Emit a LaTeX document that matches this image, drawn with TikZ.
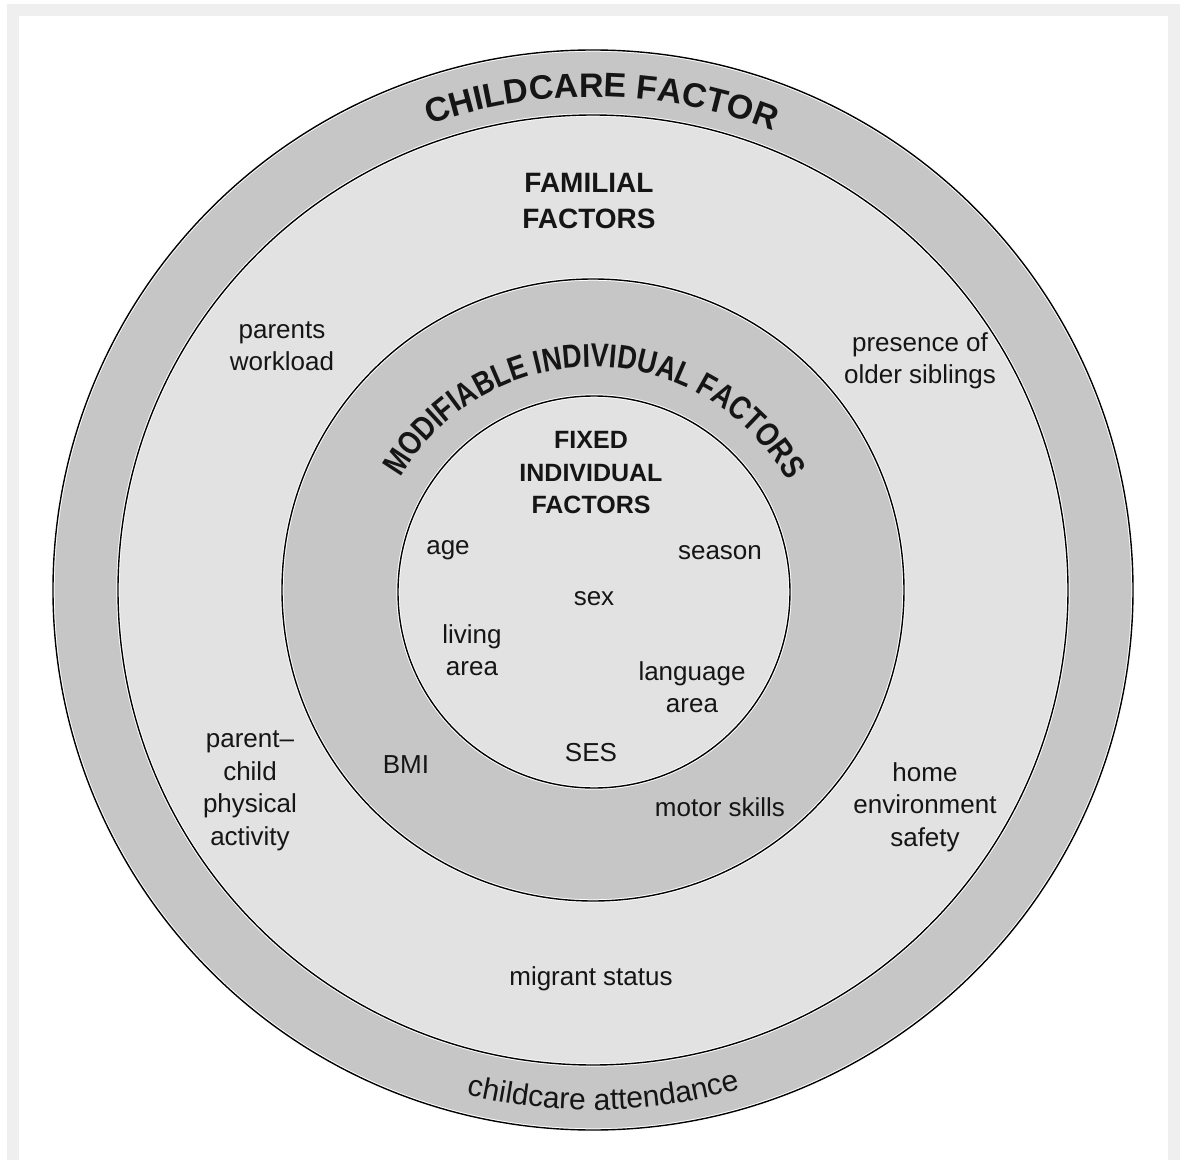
\documentclass[tikz,border=0pt]{standalone}
\usepackage{fontspec}
\setmainfont{Liberation Sans}
\newfontfamily\condsans[FakeStretch=0.82]{Liberation Sans}
\usetikzlibrary{decorations.text}
\definecolor{ringdark}{HTML}{C6C6C6}
\definecolor{ringlight}{HTML}{E2E2E3}
\definecolor{framegray}{HTML}{EFEFEF}
\definecolor{ink}{HTML}{151515}
\begin{document}
\begin{tikzpicture}[x=1pt,y=1pt,
  lbl/.style={font=\fontsize{26}{32.5}\selectfont, align=center, inner sep=0pt, text=ink},
  head/.style={font=\fontsize{28}{36}\selectfont\bfseries, align=center, inner sep=0pt, text=ink},
  headsmall/.style={font=\fontsize{25}{32.5}\selectfont\bfseries, align=center, inner sep=0pt, text=ink},
  halo/.style={draw=white, line width=3.4pt},
  rim/.style={draw=black, line width=1.4pt}]
\useasboundingbox (-593,-570) rectangle (594,590);
% frame
\fill[white] (-593,-570) rectangle (594,590);
\fill[framegray] (-586,-570) rectangle (587,586);
\fill[white] (-574,-570) rectangle (575,574);
% rings
\fill[ringdark] (0,0) circle[radius=540pt];
\fill[ringlight] (0,0) circle[radius=475pt];
\fill[ringdark] (0,0) circle[radius=311pt];
\fill[ringlight] (1,-2) circle[radius=196pt];
\foreach \r in {540,475,311}{
  \draw[halo] (0,0) circle[radius=\r pt];
  \draw[rim] (0,0) circle[radius=\r pt];
}
\draw[halo] (1,-2) circle[radius=196pt];
\draw[rim] (1,-2) circle[radius=196pt];
% curved texts
\path[decorate, decoration={text along path, text align=center,
  text={|\fontsize{34}{34}\selectfont\bfseries\color{ink}|CHILDCARE FACTOR}}]
  (179:493) arc[start angle=179, end angle=-1, radius=493pt];
\path[decorate, decoration={text along path, text align=center,
  text={|\fontsize{30}{30}\selectfont\color{ink}|childcare attendance}}]
  (181.2:520) arc[start angle=181.2, end angle=361.2, radius=520pt];
\path[decorate, decoration={text along path, text align=center,
  text={|\condsans\fontsize{33}{33}\selectfont\bfseries\color{ink}|MODIFIABLE INDIVIDUAL FACTORS}}]
  (179.5:223) arc[start angle=179.5, end angle=-0.5, radius=223pt];
% labels
\node[head] (familial) at (-4,389) {FAMILIAL\\FACTORS};
\node[lbl] (workload) at (-311,244) {parents\\workload};
\node[lbl] (siblings) at (327,229) {presence of\\older siblings};
\node[headsmall] (fixed) at (-2,117) {FIXED\\INDIVIDUAL\\FACTORS};
\node[lbl] (age) at (-145,40) {age};
\node[lbl] (season) at (127,37) {season};
\node[lbl] (sex) at (1,-9) {sex};
\node[lbl] (living) at (-121,-60) {living\\area};
\node[lbl] (language) at (99,-97) {language\\area};
\node[lbl] (ses) at (-2,-163) {SES};
\node[lbl] (bmi) at (-187,-175) {BMI};
\node[lbl] (motor) at (127,-217) {motor skills};
\node[lbl] (pcpa) at (-343,-201) {parent–\\child\\physical\\activity};
\node[lbl] (home) at (332,-217) {home\\environment\\safety};
\node[lbl] (migrant) at (-2,-389) {migrant status};
\end{tikzpicture}
\end{document}
